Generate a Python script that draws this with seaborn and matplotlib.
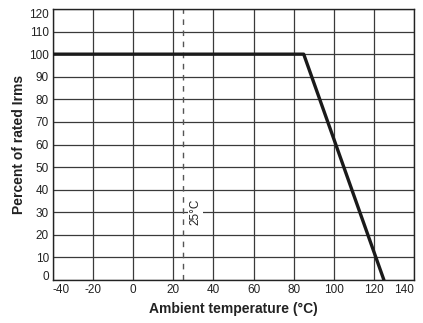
import matplotlib
matplotlib.use("Agg")
import matplotlib.pyplot as plt
import seaborn as sns
import pandas as pd

temperature = [-40, 85, 125]
percent_rated = [100, 100, 0]
x_ticks = [-40, -20, 0, 20, 40, 60, 80, 100, 120, 140]
y_ticks = [0, 10, 20, 30, 40, 50, 60, 70, 80, 90, 100, 110, 120]
ref_temp = 25
ref_label = "25°C"

sns.set_theme(style="white")
plt.rcParams['font.family'] = ['Liberation Sans', 'DejaVu Sans']

df = pd.DataFrame({"temp": temperature, "pct": percent_rated})

fig = plt.figure(figsize=(4.23, 3.23), dpi=100)
ax = fig.add_axes([53/423, 1-280/323, (414-53)/423, (280-9)/323])

ax.set_xlim(-40, 140)
ax.set_ylim(0, 120)
ax.set_xticks(x_ticks)
ax.set_yticks(y_ticks)
ax.grid(True, color="#3a3a3a", linewidth=0.9)
ax.set_axisbelow(True)

ax.axvline(ref_temp, color="#555555", linewidth=1.0, linestyle=(0, (4, 4)), zorder=2)
sns.lineplot(data=df, x="temp", y="pct", ax=ax, color="#1a1a1a", linewidth=2.4, zorder=3)
ax.text(ref_temp + 6, 30, ref_label, rotation=90, ha="center", va="center",
        fontsize=8.5, color="#222222",
        bbox=dict(facecolor="white", edgecolor="none", pad=1.0), zorder=2.5)

for s in ax.spines.values():
    s.set_color("#222222")
    s.set_linewidth(1.0)

ax.tick_params(axis="both", length=0, labelsize=8.5, colors="#222222", pad=3)
ax.set_xticklabels([str(v) for v in x_ticks])
ax.set_yticklabels([str(v) for v in y_ticks])
xl = ax.get_xticklabels()
xl[0].set_ha("left")
xl[-1].set_ha("right")
yl = ax.get_yticklabels()
yl[0].set_va("baseline")
yl[-1].set_va("top")

ax.set_xlabel("Ambient temperature (°C)", fontsize=10, fontweight="bold", color="#222222", labelpad=4)
ax.set_ylabel("Percent of rated Irms", fontsize=10, fontweight="bold", color="#222222", labelpad=2)

fig.savefig("out.png", dpi=100, facecolor="white")
